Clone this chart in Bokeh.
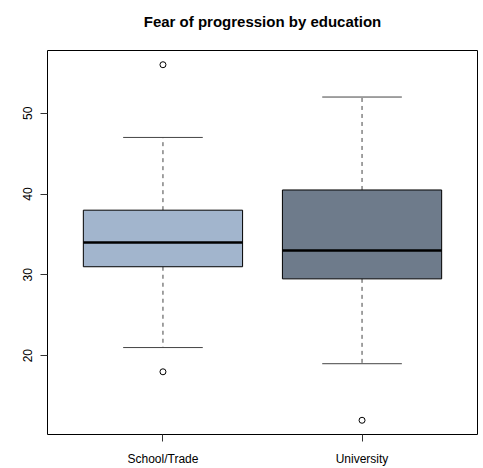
from bokeh.plotting import figure
from bokeh.models import Range1d, FixedTicker, Title
from bokeh.embed import file_html
from bokeh.resources import INLINE

# Five-number summaries per education group
categories = ["School/Trade", "University"]
lower_whisker = [21, 19]
q1 = [31, 29.5]
median = [34, 33]
q3 = [38, 40.5]
upper_whisker = [47, 52]

# Points beyond the whiskers
outlier_group = ["School/Trade", "School/Trade", "University"]
outlier_value = [56, 18, 12]

y_ticks = [20, 30, 40, 50]

box_colors = ["#A2B5CD", "#6E7B8B"]
FONT = "Liberation Sans"

xpos = [i + 1 for i in range(len(categories))]
pos_of = {c: i + 1 for i, c in enumerate(categories)}

all_vals = lower_whisker + upper_whisker + outlier_value
lo, hi = min(all_vals), max(all_vals)
pad = (hi - lo) * 0.04
xpad = len(categories) * 0.04

p = figure(width=483, height=468, output_backend="svg", toolbar_location=None,
           x_range=Range1d(0.5 - xpad, len(categories) + 0.5 + xpad),
           y_range=Range1d(lo - pad, hi + pad),
           min_border_left=47, min_border_right=6,
           min_border_top=50, min_border_bottom=32,
           background_fill_color="white", border_fill_color="white")

p.title.text = "Fear of progression by education"
p.title.align = "center"
p.title.text_font = FONT
p.title.text_font_size = "15px"
p.title.text_font_style = "bold"
p.title.text_color = "black"
p.title.standoff = 0

# blank band that keeps the title clear of the frame
p.add_layout(Title(text=" ", text_font_size="1px", standoff=18), "above")

p.outline_line_color = "black"
p.outline_line_width = 1
p.grid.visible = False

for ax in (p.xaxis[0], p.yaxis[0]):
    ax.axis_line_color = None
    ax.major_tick_in = 0
    ax.major_tick_out = 7
    ax.major_tick_line_color = "#333333"
    ax.minor_tick_line_color = None
    ax.major_label_text_font = FONT
    ax.major_label_text_font_size = "12px"
    ax.major_label_text_color = "black"

p.xaxis.ticker = FixedTicker(ticks=xpos)
p.xaxis.major_label_overrides = {x: c for x, c in zip(xpos, categories)}
p.xaxis.major_label_standoff = 10

p.yaxis.ticker = FixedTicker(ticks=y_ticks)
p.yaxis.major_label_orientation = "vertical"
p.yaxis.major_label_standoff = 8

# dashed whiskers
p.segment(x0=xpos, y0=q3, x1=xpos, y1=upper_whisker,
          line_color="#444444", line_width=1, line_dash="4 4")
p.segment(x0=xpos, y0=q1, x1=xpos, y1=lower_whisker,
          line_color="#444444", line_width=1, line_dash="4 4")

# whisker caps
cap = 0.2
p.segment(x0=[x - cap for x in xpos], y0=upper_whisker,
          x1=[x + cap for x in xpos], y1=upper_whisker,
          line_color="#444444", line_width=1)
p.segment(x0=[x - cap for x in xpos], y0=lower_whisker,
          x1=[x + cap for x in xpos], y1=lower_whisker,
          line_color="#444444", line_width=1)

# boxes
p.vbar(x=xpos, bottom=q1, top=q3, width=0.8,
       fill_color=box_colors, line_color="black", line_width=1)

# medians
p.segment(x0=[x - 0.4 for x in xpos], y0=median,
          x1=[x + 0.4 for x in xpos], y1=median,
          line_color="black", line_width=2.5)

# outliers
p.scatter(x=[pos_of[g] for g in outlier_group], y=outlier_value,
          marker="circle", size=6, fill_color=None,
          line_color="black", line_width=1)

open("out.html", "w").write(file_html(p, INLINE))
